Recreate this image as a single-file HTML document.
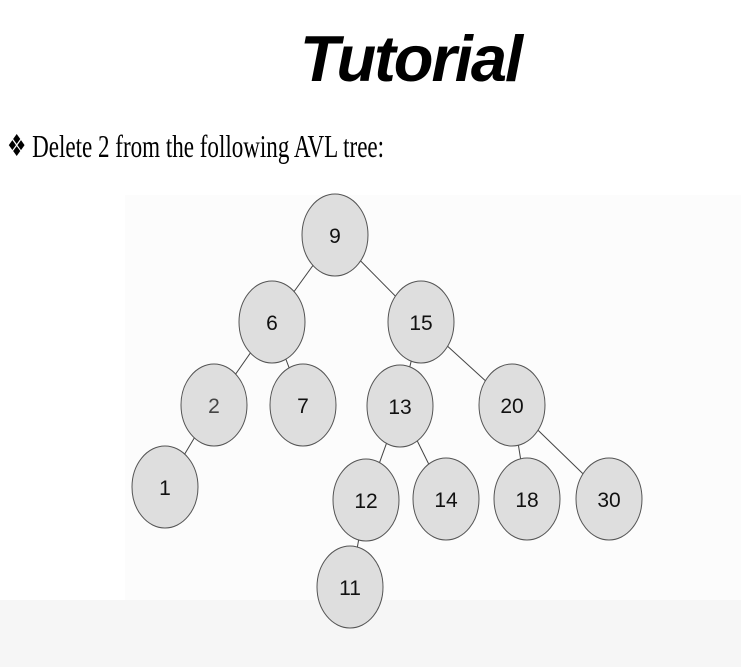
<!DOCTYPE html>
<html><head><style>
body{margin:0;width:741px;height:667px;background:#fff;position:relative;overflow:hidden}
.t{position:absolute;left:0;width:741px;top:21px;text-align:center;padding-left:80px;box-sizing:border-box;font:italic bold 65px "Liberation Sans",sans-serif;letter-spacing:-2px;color:#000}
.b{position:absolute;left:7px;top:128px;font:32px "Liberation Serif",serif;color:#000;white-space:nowrap;transform:scaleX(0.72);transform-origin:0 0}
.b span{font-size:30px;vertical-align:1px}
svg{position:absolute;left:0;top:0}
</style></head><body>
<svg width="741" height="667">
<rect x="125" y="195" width="616" height="405" fill="#fcfcfc"/>
<rect x="0" y="600" width="741" height="67" fill="#f6f6f6"/>
<g stroke="#444" stroke-width="1">
<line x1="335" y1="235" x2="272" y2="322"/><line x1="335" y1="235" x2="421" y2="322"/>
<line x1="272" y1="322" x2="214" y2="405"/><line x1="272" y1="322" x2="303" y2="405"/>
<line x1="214" y1="405" x2="165" y2="487"/>
<line x1="421" y1="322" x2="400" y2="406"/><line x1="421" y1="322" x2="512" y2="405"/>
<line x1="400" y1="406" x2="366" y2="500"/><line x1="400" y1="406" x2="446" y2="499"/>
<line x1="512" y1="405" x2="527" y2="499"/><line x1="512" y1="405" x2="609" y2="499"/>
<line x1="366" y1="500" x2="350" y2="587"/>
</g>
<g fill="#dedede" stroke="#555" stroke-width="1">
<ellipse cx="335" cy="235" rx="33" ry="41"/><ellipse cx="272" cy="322" rx="33" ry="41"/>
<ellipse cx="421" cy="322" rx="33" ry="41"/><ellipse cx="214" cy="405" rx="33" ry="41"/>
<ellipse cx="303" cy="405" rx="33" ry="41"/><ellipse cx="400" cy="406" rx="33" ry="41"/>
<ellipse cx="512" cy="405" rx="33" ry="41"/><ellipse cx="165" cy="487" rx="33" ry="41"/>
<ellipse cx="366" cy="500" rx="33" ry="41"/><ellipse cx="446" cy="499" rx="33" ry="41"/>
<ellipse cx="527" cy="499" rx="33" ry="41"/><ellipse cx="609" cy="499" rx="33" ry="41"/>
<ellipse cx="350" cy="587" rx="33" ry="41"/>
</g>
<g font-family="Liberation Sans,sans-serif" font-size="21" text-anchor="middle" fill="#111">
<text x="335" y="243">9</text><text x="272" y="330">6</text><text x="421" y="330">15</text>
<text x="214" y="413" fill="#444">2</text><text x="303" y="413">7</text><text x="400" y="414">13</text>
<text x="512" y="413">20</text><text x="165" y="495">1</text><text x="366" y="508">12</text>
<text x="446" y="507">14</text><text x="527" y="507">18</text><text x="609" y="507">30</text>
<text x="350" y="595">11</text>
</g>
</svg>
<div class="t">Tutorial</div>
<div class="b"><span>❖</span> Delete 2 from the following AVL tree:</div>
</body></html>
